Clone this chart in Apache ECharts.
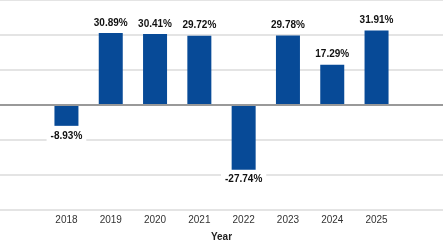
<!DOCTYPE html>
<html>
<head>
<meta charset="utf-8">
<script src="https://cdn.jsdelivr.net/npm/echarts@6/dist/echarts.min.js"></script>
<style>html,body{margin:0;padding:0;background:#fff;}#c{width:443px;height:247px;}</style>
</head>
<body>
<div id="c"></div>
<script>
var categories = ['', '2018', '2019', '2020', '2021', '2022', '2023', '2024', '2025', ''];
var values = [null, -8.93, 30.89, 30.41, 29.72, -27.74, 29.78, 17.29, 31.91, null];
var yMin = -45, yMax = 45, yInterval = 15;
var FONT = '"Liberation Sans Narrow", "Liberation Sans", Arial, sans-serif';

var data = values.map(function (v) {
  if (v === null) return { value: null };
  return {
    value: v,
    label: { position: v < 0 ? 'bottom' : 'top' }
  };
});

var chart = echarts.init(document.getElementById('c'), null, { renderer: 'canvas' });
chart.setOption({
  animation: false,
  backgroundColor: '#fff',
  grid: { left: 0, right: 0, top: 0, bottom: 37, containLabel: false },
  xAxis: {
    type: 'category',
    data: categories,
    axisLine: { show: false, onZero: false },
    axisTick: { show: false },
    axisLabel: { color: '#333', fontFamily: FONT, fontSize: 10, margin: 5 },
    name: 'Year',
    nameLocation: 'middle',
    nameGap: 22,
    nameTextStyle: { color: '#222', fontFamily: FONT, fontSize: 10, fontWeight: 'bold' },
    splitLine: { show: false }
  },
  yAxis: {
    type: 'value',
    min: yMin, max: yMax, interval: yInterval,
    axisLabel: { show: false },
    axisLine: { show: false },
    axisTick: { show: false },
    splitLine: { lineStyle: { color: '#e4e4e4', width: 2 } }
  },
  series: [{
    type: 'bar',
    data: data,
    barWidth: 24,
    itemStyle: { color: '#074A97' },
    label: {
      show: true,
      formatter: function (p) { return p.value.toFixed(2) + '%'; },
      fontFamily: FONT, fontSize: 10, fontWeight: 'bold', color: '#111',
      distance: 4,
      backgroundColor: '#fff',
      padding: [1, 4]
    },
    markLine: {
      silent: true,
      symbol: 'none',
      label: { show: false },
      lineStyle: { color: '#999', width: 2, type: 'solid' },
      data: [{ yAxis: 0 }]
    }
  }]
});
</script>
</body>
</html>
